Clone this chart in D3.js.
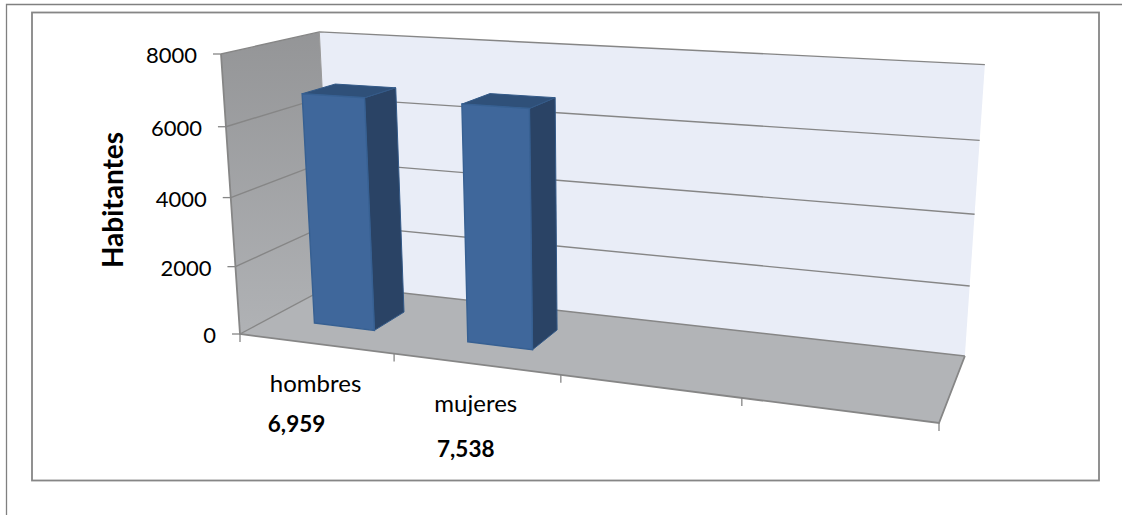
<!DOCTYPE html>
<html>
<head>
<meta charset="utf-8">
<script src="https://cdn.jsdelivr.net/npm/d3@7"></script>
<style>
  html, body { margin: 0; padding: 0; background: #fff; overflow: hidden; }
  text { font-family: Lato, "Open Sans", sans-serif; fill: #000; }
</style>
</head>
<body>
<script>
var categories = ["hombres", "mujeres"];
var emptySlots = ["slot3", "slot4"];
// bar heights as read against the gridlines; the printed labels say something else
var values = [6750, 6750];
var valueLabels = ["6,959", "7,538"];
var yTicks = [0, 2000, 4000, 6000, 8000];
var yTitle = "Habitantes";

var width = 1122;
var height = 515;

// screen corners of the 3d box, and how much each axis shrinks away from the viewer
var O = [240, 334], X = [939, 423], Y = [221, 54], Z = [332, 285];
var pa = -0.1516, pb = -0.05, pc = 0.1107;

function project(x, y, z) {
  var w = 1 + pa * x + pb * y + pc * z;
  return [0, 1].map(function(i) {
    return (O[i] + x * ((1 + pa) * X[i] - O[i]) + y * ((1 + pb) * Y[i] - O[i]) + z * ((1 + pc) * Z[i] - O[i])) / w;
  });
}

var xScale = d3.scaleBand().domain(categories.concat(emptySlots)).range([0, 1]).paddingInner(0.6).paddingOuter(0.3);
var yScale = d3.scaleLinear().domain([0, 8000]).range([0, 1]);
var zScale = d3.scaleBand().domain(["s"]).range([0.31, 0.665]);
var slotTicks = d3.range(0, 5).map(function(d) { return d / 4; });

var svg = d3.select("body").append("svg")
  .attr("width", width)
  .attr("height", height)
  .style("display", "block");

var line = d3.line();
function face(points) { return line(points) + "Z"; }

var defs = svg.append("defs");
var wallGrad = defs.append("linearGradient").attr("id", "wall")
  .attr("x1", 0).attr("y1", 0).attr("x2", 0).attr("y2", 1);
wallGrad.append("stop").attr("offset", "0%").attr("stop-color", "#949597");
wallGrad.append("stop").attr("offset", "100%").attr("stop-color", "#b0b2b5");

// outer and inner frames
svg.append("path").attr("d", "M1122,4.5H6.5V515").attr("fill", "none").attr("stroke", "#808080").attr("stroke-width", 1.3);
svg.append("rect").attr("x", 32).attr("y", 12.5).attr("width", 1067).attr("height", 468)
  .attr("fill", "#fff").attr("stroke", "#868686").attr("stroke-width", 1.8);

// walls and floor
svg.append("path").attr("d", face([project(0,0,1), project(1,0,1), project(1,1,1), project(0,1,1)]))
  .attr("fill", "#e9edf7");
svg.append("path").attr("d", face([project(0,0,0), project(0,0,1), project(0,1,1), project(0,1,0)]))
  .attr("fill", "url(#wall)");
svg.append("path").attr("d", face([project(0,0,0), project(1,0,0), project(1,0,1), project(0,0,1)]))
  .attr("fill", "#b2b4b7");

// gridlines on the two walls
svg.selectAll("path.grid")
  .data(yTicks)
  .enter()
  .append("path")
  .attr("class", "grid")
  .attr("d", function(d) {
    var v = yScale(d);
    return line([project(0,v,0), project(0,v,1), project(1,v,1)]);
  })
  .attr("fill", "none")
  .attr("stroke", "#868686")
  .attr("stroke-width", 1.4);

// box edges
svg.append("path").attr("d", line([project(0,1,0), project(0,0,0), project(1,0,0), project(1,0,1)]))
  .attr("fill", "none").attr("stroke", "#868686").attr("stroke-width", 1.8);
svg.append("path").attr("d", line([project(0,1,1), project(0,0,1)]))
  .attr("fill", "none").attr("stroke", "#9a9a9a").attr("stroke-width", 1);

// tick marks
svg.selectAll("path.ytick")
  .data(yTicks)
  .enter()
  .append("path")
  .attr("class", "ytick")
  .attr("d", function(d) {
    var p = project(0, yScale(d), 0);
    return line([[p[0] - 8, p[1]], p]);
  })
  .attr("stroke", "#868686")
  .attr("stroke-width", 1.3);

svg.selectAll("path.xtick")
  .data(slotTicks)
  .enter()
  .append("path")
  .attr("class", "xtick")
  .attr("d", function(d) {
    var p = project(d, 0, 0);
    return line([p, [p[0], p[1] + 8]]);
  })
  .attr("stroke", "#868686")
  .attr("stroke-width", 1.3);

// bars
var bars = svg.selectAll("g.bar")
  .data(categories.map(function(c, i) { return { name: c, value: values[i] }; }))
  .enter()
  .append("g")
  .attr("class", "bar");

function barCorners(d) {
  var x0 = xScale(d.name), x1 = x0 + xScale.bandwidth();
  var z0 = zScale("s"), z1 = z0 + zScale.bandwidth();
  var v = yScale(d.value);
  return { x0: x0, x1: x1, z0: z0, z1: z1, v: v };
}

bars.append("path")
  .attr("d", function(d) {
    var c = barCorners(d);
    return face([project(c.x1,0,c.z0), project(c.x1,0,c.z1), project(c.x1,c.v,c.z1), project(c.x1,c.v,c.z0)]);
  })
  .attr("fill", "#2a4365").attr("stroke", "#345a88").attr("stroke-width", 1);
bars.append("path")
  .attr("d", function(d) {
    var c = barCorners(d);
    return face([project(c.x0,c.v,c.z0), project(c.x1,c.v,c.z0), project(c.x1,c.v,c.z1), project(c.x0,c.v,c.z1)]);
  })
  .attr("fill", "#2f5079").attr("stroke", "#345a88").attr("stroke-width", 1);
bars.append("path")
  .attr("d", function(d) {
    var c = barCorners(d);
    return face([project(c.x0,0,c.z0), project(c.x1,0,c.z0), project(c.x1,c.v,c.z0), project(c.x0,c.v,c.z0)]);
  })
  .attr("fill", "#3f679b").attr("stroke", "#376092").attr("stroke-width", 1.4);

// y tick labels
svg.selectAll("text.ylabel")
  .data(yTicks)
  .enter()
  .append("text")
  .attr("class", "ylabel")
  .text(function(d) { return d; })
  .attr("x", function(d) { return project(0, yScale(d), 0)[0] - 24; })
  .attr("y", function(d) { return project(0, yScale(d), 0)[1] + 9; })
  .attr("text-anchor", "end")
  .attr("font-size", "22px");

// category and value labels, hung from the slot centre on the front edge
var valueShift = [[-19, 88], [-10, 93]];

svg.selectAll("text.cat")
  .data(categories)
  .enter()
  .append("text")
  .attr("class", "cat")
  .text(function(d) { return d; })
  .attr("x", function(d) { return project(xScale(d) + xScale.bandwidth() / 2, 0, 0)[0]; })
  .attr("y", function(d) { return project(xScale(d) + xScale.bandwidth() / 2, 0, 0)[1] + 48; })
  .attr("text-anchor", "middle")
  .attr("font-size", "24px");

svg.selectAll("text.val")
  .data(valueLabels)
  .enter()
  .append("text")
  .attr("class", "val")
  .text(function(d) { return d; })
  .attr("x", function(d, i) { return project(xScale(categories[i]) + xScale.bandwidth() / 2, 0, 0)[0] + valueShift[i][0]; })
  .attr("y", function(d, i) { return project(xScale(categories[i]) + xScale.bandwidth() / 2, 0, 0)[1] + valueShift[i][1]; })
  .attr("text-anchor", "middle")
  .attr("font-size", "22.5px")
  .attr("font-weight", "bold");

svg.append("text")
  .text(yTitle)
  .attr("transform", "translate(123,200) rotate(-90)")
  .attr("text-anchor", "middle")
  .attr("font-size", "28px")
  .attr("font-weight", "bold");
</script>
</body>
</html>
